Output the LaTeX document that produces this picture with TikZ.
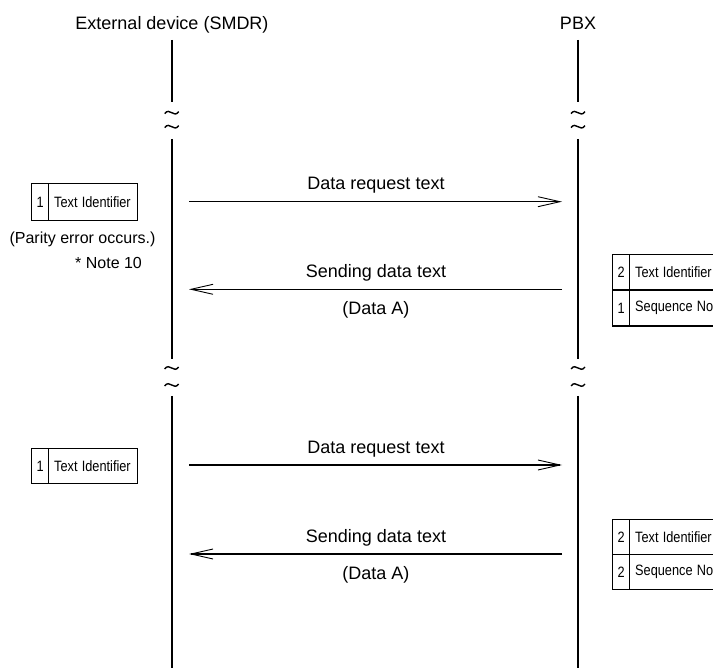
\documentclass[tikz,border=0pt]{standalone}
\usepackage{fontspec}
\usepackage{graphicx}
\setmainfont{Liberation Sans}
\usetikzlibrary{arrows.meta}
% narrow setting for the small field labels
\newcommand\narrowtxt[1]{\scalebox{0.85}[1]{#1}}
\begin{document}
\begin{tikzpicture}[x=1pt,y=-1pt,
  lifeline/.style={line width=1.8pt},
  msg/.style={line width=1.4pt,-{Straight Barb[length=22pt,width=10pt,line width=0.9pt]}},
  lbl/.style={font=\fontsize{18}{21}\selectfont,inner sep=0pt,anchor=base},
  remark/.style={font=\fontsize{16}{19}\selectfont,inner sep=0pt,anchor=base},
  numcell/.style={draw,line width=1.4pt,inner sep=0pt,anchor=north west,
    minimum width=17pt,font=\fontsize{15}{18}\selectfont},
  txtcell/.style={draw,line width=1.4pt,inner ysep=0pt,inner xsep=5.5pt,
    anchor=north west,align=left,font=\fontsize{15}{18}\selectfont},
  gapmark/.style={line width=1.4pt}
]
\useasboundingbox (0,0) rectangle (713,668);
\clip (0,0) rectangle (713,668);

% headers
\node[lbl] (devhead) at (172,30) {External device (SMDR)};
\node[lbl] (pbxhead) at (578,30) {PBX};

% lifelines, broken at the two omission marks
\foreach \x/\n in {171.7/L,578/R}{
  \coordinate (\n a) at (\x,40);
  \coordinate (\n b) at (\x,102);
  \coordinate (\n c) at (\x,139);
  \coordinate (\n d) at (\x,359);
  \coordinate (\n e) at (\x,396);
  \coordinate (\n f) at (\x,668);
  \draw[lifeline] (\n a) -- (\n b);
  \draw[lifeline] (\n c) -- (\n d);
  \draw[lifeline] (\n e) -- (\n f);
  \foreach \y in {112.7,126.7,368,385}{
    \draw[gapmark] (\x-7,\y+1) .. controls (\x-2,\y-6) and (\x+2,\y+6) .. (\x+7,\y-1);
  }
}

% first exchange
\coordinate (q1s) at (189,201.7);
\coordinate (q1e) at (562,201.7);
\draw[msg] (q1s) -- (q1e);
\node[lbl] (q1lbl) at (376,190) {Data request text};

\coordinate (a1s) at (562,289.3);
\coordinate (a1e) at (189,289.3);
\draw[msg] (a1s) -- (a1e);
\node[lbl] (a1lbl) at (376,277.5) {Sending data text};
\node[lbl] (a1sub) at (376,314.5) {(Data A)};

\node[numcell,minimum height=37pt] (lb1n) at (31,183) {\narrowtxt{1}};
\node[txtcell,minimum height=37pt,text width=78pt] (lb1t) at (48,183) {\narrowtxt{Text Identifier}};
\node[remark] (parity) at (82.5,243.5) {(Parity error occurs.)};
\node[remark,anchor=base west] (note10) at (75,269) {* Note 10};

\node[numcell,minimum height=35.5pt] (rb1n1) at (612,254) {\narrowtxt{2}};
\node[txtcell,minimum height=35.5pt,text width=110pt] (rb1t1) at (629,254) {\narrowtxt{Text Identifier}};
\node[numcell,minimum height=36pt] (rb1n2) at (612,289.5) {\narrowtxt{1}};
\node[txtcell,minimum height=36pt,text width=110pt] (rb1t2) at (629,289.5) {\narrowtxt{Sequence No}};

% second exchange
\coordinate (q2s) at (189,465);
\coordinate (q2e) at (562,465);
\draw[msg] (q2s) -- (q2e);
\node[lbl] (q2lbl) at (376,453.5) {Data request text};

\coordinate (a2s) at (562,554);
\coordinate (a2e) at (189,554);
\draw[msg] (a2s) -- (a2e);
\node[lbl] (a2lbl) at (376,542) {Sending data text};
\node[lbl] (a2sub) at (376,579) {(Data A)};

\node[numcell,minimum height=35pt] (lb2n) at (31,448) {\narrowtxt{1}};
\node[txtcell,minimum height=35pt,text width=78pt] (lb2t) at (48,448) {\narrowtxt{Text Identifier}};

\node[numcell,minimum height=35pt] (rb2n1) at (612,519) {\narrowtxt{2}};
\node[txtcell,minimum height=35pt,text width=110pt] (rb2t1) at (629,519) {\narrowtxt{Text Identifier}};
\node[numcell,minimum height=35pt] (rb2n2) at (612,554) {\narrowtxt{2}};
\node[txtcell,minimum height=35pt,text width=110pt] (rb2t2) at (629,554) {\narrowtxt{Sequence No}};
\end{tikzpicture}
\end{document}
